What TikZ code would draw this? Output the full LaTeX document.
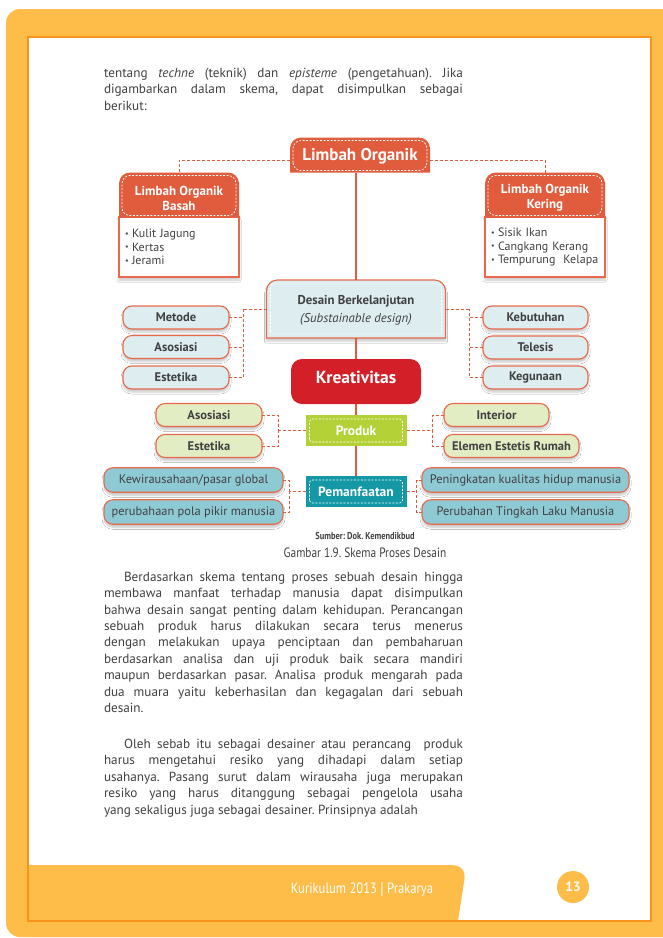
\documentclass[tikz,border=0pt]{standalone}
\usepackage{fontspec}
\setmainfont{PT Sans}
\newfontfamily\condfont[FakeStretch=0.84]{PT Sans}
\usetikzlibrary{backgrounds}
\usetikzlibrary{
    positioning, 
    calc, 
    shadows.blur}

\definecolor{pageorange}{RGB}{253,189,72}
\definecolor{lineorange}{RGB}{247,148,29}
\definecolor{limbahred}{RGB}{224,92,60}
\definecolor{boxred}{RGB}{232,105,75}
\definecolor{kreared}{RGB}{211,32,40}
\definecolor{desainblue}{RGB}{221,237,240}
\definecolor{produkgreen}{RGB}{180,210,56}
\definecolor{palegreen}{RGB}{227,237,195}
\definecolor{manfaatteal}{RGB}{20,152,166}
\definecolor{paleteal}{RGB}{142,202,212}
\definecolor{textgray}{RGB}{65,64,66}

\begin{document}
\frenchspacing
\begin{tikzpicture}[x=1pt, y=-1pt,
    every node/.style={inner sep=0pt, outer sep=0pt},
    trunk/.style={draw=limbahred, line width=2pt},
    dashlink/.style={draw=limbahred, line width=0.9pt, dash pattern=on 3pt off 2pt},
    softshadow/.style={blur shadow={shadow xshift=0pt, shadow yshift=-3pt, shadow opacity=22, shadow blur steps=6}},
    sidebox/.style={draw=boxred, line width=1.1pt, rounded corners=9pt, minimum height=23pt, softshadow},
    bluebox/.style={sidebox, fill=desainblue, minimum width=106pt, text=textgray, font=\bfseries\fontsize{12.5}{14}\selectfont},
    greenbox/.style={sidebox, fill=palegreen, text=textgray, font=\bfseries\fontsize{12.5}{14}\selectfont},
    tealbox/.style={sidebox, fill=paleteal, minimum height=24.5pt, text=textgray, font=\fontsize{12.4}{14}\selectfont},
    centerbox/.style={minimum width=101pt, minimum height=31pt, text=white, font=\bfseries\fontsize{13.5}{15}\selectfont},
    innerdash/.style={draw=white, line width=0.7pt, dash pattern=on 2pt off 1.5pt},
    tabtext/.style={text=white, font=\bfseries\fontsize{13}{15}\selectfont, align=center},
    listtext/.style={draw=boxred, fill=white, line width=1.1pt, minimum width=120pt, minimum height=60pt, text width=108pt, align=left, text=textgray, font=\fontsize{12}{13.5}\selectfont, softshadow},
    bodytext/.style={anchor=north west, text width=359pt, align=justify, text=textgray, font=\fontsize{13.2}{16.4}\selectfont}
]
\newcommand{\tabshape}[2]{\path[#2] (#1.south west) [rounded corners=11pt] -- (#1.north west) -- (#1.north east) [sharp corners] -- (#1.south east) -- cycle;}
\newcommand{\itemdot}{\makebox[7pt][l]{\raisebox{1.2pt}{\fontsize{8}{8}\selectfont\textbullet}}}

\useasboundingbox (0,0) rectangle (662,938);

% page
\fill[white] (0,0) rectangle (662,938);
\fill[pageorange, rounded corners=14pt] (6,9) rectangle (690,937);
\fill[white] (28,37) rectangle (651,921);
\fill[pageorange] (28,865) -- (450,865) .. controls (463,865) and (466,872) .. (464,882) -- (458,921) -- (28,921) -- cycle;
\draw[lineorange, line width=2pt] (28,37) rectangle (651,921);

\node[anchor=east, text=white, font=\condfont\fontsize{15}{17}\selectfont] (kurikulum) at (433,890) {Kurikulum 2013 \raisebox{-1pt}{\fontsize{17}{17}\selectfont|} Prakarya};
\node[circle, fill=pageorange, minimum size=32pt, text=white, font=\bfseries\fontsize{13.5}{15}\selectfont] (pagenum) at (573,887) {13};

% text
\node[bodytext] (intro) at (104,68) {tentang \textit{techne} (teknik) dan \textit{episteme} (pengetahuan). Jika\linebreak digambarkan dalam skema, dapat disimpulkan sebagai\linebreak berikut:};

\node[bodytext] (paraone) at (104,572) {\hspace*{20pt}Berdasarkan skema tentang proses sebuah desain hingga\linebreak membawa manfaat terhadap manusia dapat disimpulkan\linebreak bahwa desain sangat penting dalam kehidupan. Perancangan\linebreak sebuah produk harus dilakukan secara terus menerus\linebreak dengan melakukan upaya penciptaan dan pembaharuan\linebreak berdasarkan analisa dan uji produk baik secara mandiri\linebreak maupun berdasarkan pasar. Analisa produk mengarah pada\linebreak dua muara yaitu keberhasilan dan kegagalan dari sebuah\linebreak desain.};

\node[bodytext] (paratwo) at (104,739) {\parfillskip=0pt\hspace*{20pt}Oleh sebab itu sebagai desainer atau perancang\ \ produk\linebreak harus mengetahui resiko yang dihadapi dalam setiap\linebreak usahanya. Pasang surut dalam wirausaha juga merupakan\linebreak resiko yang harus ditanggung sebagai pengelola usaha\linebreak yang sekaligus juga sebagai desainer. Prinsipnya adalah};

% skema: tab shapes first, labels on top
\node[minimum width=140pt, minimum height=35pt] (limbah) at (360,155) {};
\node[minimum width=120pt, minimum height=45pt] (basah) at (179,195) {};
\node[minimum width=120pt, minimum height=45pt] (kering) at (545,195) {};
\node[minimum width=179pt, minimum height=58pt] (desain) at (356,309) {};

\node[listtext] (basahlist) at (179,247) {\itemdot Kulit Jagung\\\itemdot Kertas\\\itemdot Jerami};
\node[listtext] (keringlist) at (545,247) {\itemdot Sisik Ikan\\\itemdot Cangkang Kerang\\\itemdot Tempurung\ \ Kelapa};

\tabshape{limbah}{fill=limbahred}
\tabshape{basah}{fill=limbahred}
\tabshape{kering}{fill=limbahred}
\tabshape{desain}{fill=desainblue, draw=boxred, line width=1.1pt, softshadow}

\foreach \nm in {limbah,basah,kering}
{
\draw[innerdash, rounded corners=8pt] ([xshift=3pt,yshift=2pt]\nm.south west) rectangle ([xshift=-3pt,yshift=-3pt]\nm.north east);
}

\node[text=white, font=\bfseries\fontsize{17}{20}\selectfont] (limbahtext) at ([yshift=-1.5pt]limbah.center) {Limbah Organik};
\node[tabtext] (basahtext) at ([yshift=-3pt]basah.center) {Limbah Organik\\Basah};
\node[tabtext] (keringtext) at ([yshift=-3pt]kering.center) {Limbah Organik\\Kering};
\node[align=center, text=textgray, font=\fontsize{12.8}{15}\selectfont] (desaintext) at ([yshift=-1pt]desain.center) {{\bfseries Desain Berkelanjutan}\\[3pt]\textit{(Substainable design)}};

\node[fill=kreared, rounded corners=11pt, minimum width=130pt, minimum height=45pt, text depth=8pt, text=white, font=\bfseries\fontsize{17.5}{20}\selectfont] (kreativitas) at (356,381.5) {Kreativitas};

\node[centerbox, fill=produkgreen] (produk) at (356,430.5) {Produk};
\node[centerbox, fill=manfaatteal] (manfaat) at (356,491.5) {Pemanfaatan};

\foreach \nm in {desain,produk,manfaat}
{
\draw[innerdash, rounded corners=3pt] ([xshift=4pt,yshift=4pt]\nm.south west) rectangle ([xshift=-4pt,yshift=-4pt]\nm.north east);
}

% trunk
\draw[trunk] (desain.north |- limbah.south) -- (desain.north);
\draw[trunk] (desain.south) -- (kreativitas.north);
\draw[trunk] (kreativitas.south) -- (produk.north);
\draw[trunk] (produk.south) -- (manfaat.north);

\draw[dashlink] ([yshift=-5pt]limbah.west) -| (basah.north);
\draw[dashlink] ([yshift=-5pt]limbah.east) -| (kering.north);

% cabang desain
\foreach \nm/\yy/\tx in {metode/317.5/Metode, asosiasia/347/Asosiasi, estetikaa/377.5/Estetika}
{
\node[bluebox] (\nm) at (176,\yy) {\tx};
}
\foreach \nm/\yy/\tx in {kebutuhan/317.5/Kebutuhan, telesis/347.5/Telesis, kegunaan/377.5/Kegunaan}
{
\node[bluebox, minimum width=105pt] (\nm) at (535.5,\yy) {\tx};
}
\coordinate (dl) at ($(desain.west)+(-23,0)$);
\coordinate (dr) at ($(desain.east)+(24,0)$);
\draw[dashlink] (desain.west) -- (dl);
\draw[dashlink] (desain.east) -- (dr);
\foreach \nm in {metode,asosiasia,estetikaa}
{
\draw[dashlink] (\nm.east) -| (dl);
}
\foreach \nm in {kebutuhan,telesis,kegunaan}
{
\draw[dashlink] (\nm.west) -| (dr);
}

% cabang produk
\node[greenbox, minimum width=106pt] (asosiasib) at (209,415) {Asosiasi};
\node[greenbox, minimum width=106pt] (estetikab) at (209,446) {Estetika};
\node[greenbox, minimum width=105pt] (interior) at (496.5,415) {Interior};
\node[greenbox, minimum width=135pt] (elemen) at (511.5,446) {Elemen Estetis Rumah};
\coordinate (pl) at ($(produk.west)+(-27,0)$);
\coordinate (pr) at ($(produk.east)+(26,0)$);
\draw[dashlink] (produk.west) -- (pl);
\draw[dashlink] (produk.east) -- (pr);
\foreach \nm in {asosiasib,estetikab}
{
\draw[dashlink] (\nm.east) -| (pl);
}
\foreach \nm in {interior,elemen}
{
\draw[dashlink] (\nm.west) -| (pr);
}

% cabang pemanfaatan
\node[tealbox, minimum width=179pt] (wirausaha) at (193.5,480) {Kewirausahaan/pasar global};
\node[tealbox, minimum width=179pt] (polapikir) at (193.5,512) {perubahaan pola pikir manusia};
\node[tealbox, minimum width=207pt] (kualitas) at (525.5,480) {Peningkatan kualitas hidup manusia};
\node[tealbox, minimum width=207pt] (perilaku) at (525.5,512) {Perubahan Tingkah Laku Manusia};
\coordinate (ml) at ($(manfaat.west)+(-16,0)$);
\coordinate (mr) at ($(manfaat.east)+(10,0)$);
\draw[dashlink] (manfaat.west) -- (ml);
\draw[dashlink] (manfaat.east) -- (mr);
\foreach \nm in {wirausaha,polapikir}
{
\draw[dashlink] (\nm.east) -| (ml);
}
\foreach \nm in {kualitas,perilaku}
{
\draw[dashlink] (\nm.west) -| (mr);
}

\node[text=textgray, font=\condfont\bfseries\fontsize{10}{12}\selectfont] (sumber) at (365,536) {Sumber: Dok. Kemendikbud};
\node[text=textgray, font=\condfont\fontsize{13.5}{16}\selectfont] (gambar) at (365,553) {Gambar 1.9. Skema Proses Desain};

\end{tikzpicture}
\end{document}
